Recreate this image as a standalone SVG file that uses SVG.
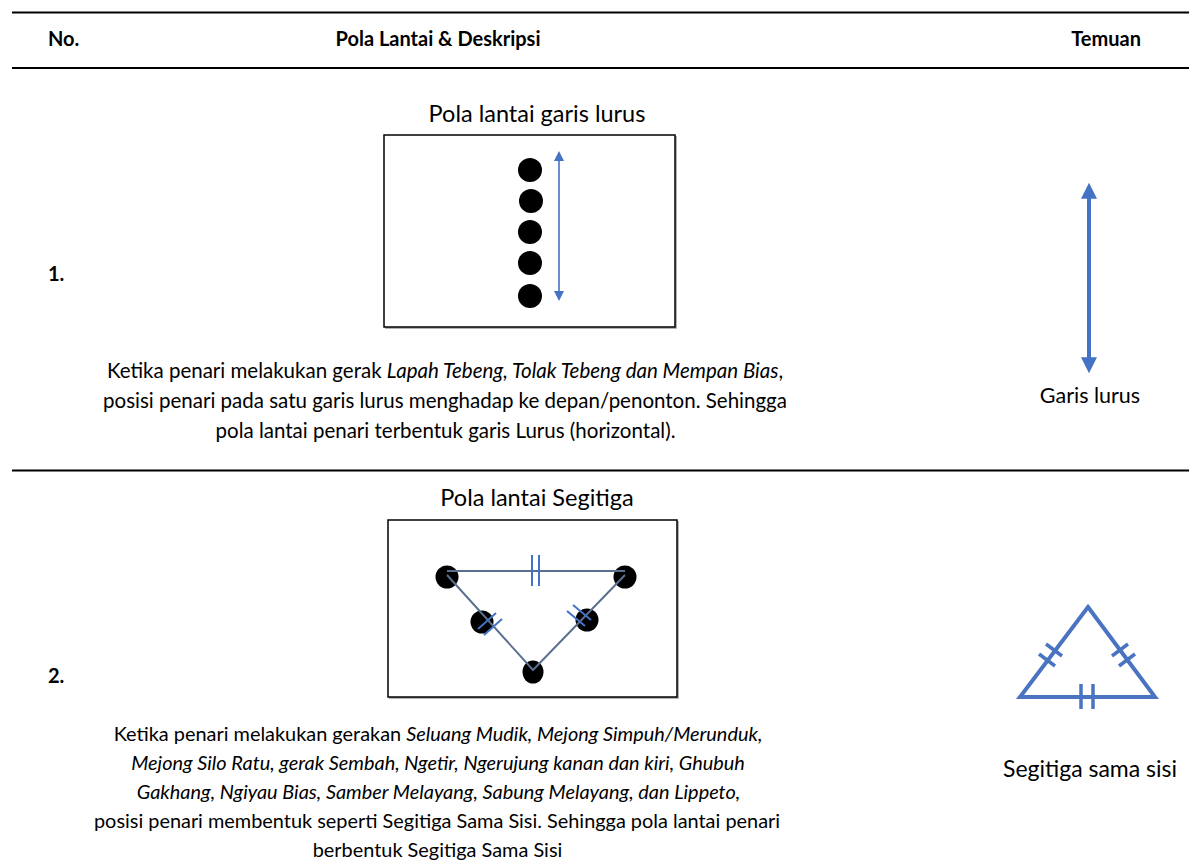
<svg xmlns="http://www.w3.org/2000/svg" width="1189" height="863" viewBox="0 0 1189 863">
<defs>
<style>
.t{font-family:Lato,"Open Sans","Liberation Sans",sans-serif;font-size:20.5px;fill:#000}
.r2{font-size:19.9px}
.lbl{font-size:21.5px}
.ttl{font-size:23.5px}
.b{font-weight:bold;font-size:20px}
.i{font-style:italic}
.rule{stroke:#000;stroke-width:2.2}
.box{fill:#fff;stroke:#000;stroke-width:1.5}
.shadow{fill:none;stroke:#999;stroke-width:1.5}
.blue{stroke:#4472c4;fill:none}
.tri{stroke:#5b6f8f;stroke-width:2;fill:none}
</style>
<marker id="ah" viewBox="0 0 10 10" refX="5" refY="5" markerWidth="10" markerHeight="10" markerUnits="userSpaceOnUse" orient="auto-start-reverse"><path d="M0,0 L10,5 L0,10 z" fill="#4472c4"/></marker>
<marker id="ahb" viewBox="0 0 10 10" refX="3" refY="5" markerWidth="4" markerHeight="4" orient="auto-start-reverse"><path d="M0,0 L10,5 L0,10 z" fill="#4472c4"/></marker>
</defs>
<rect width="1189" height="863" fill="#fff"/>

<g id="table-rules">
<line class="rule" x1="12" y1="12.5" x2="1189" y2="12.5"/>
<line class="rule" x1="12" y1="68" x2="1189" y2="68"/>
<line class="rule" x1="12" y1="470.5" x2="1189" y2="470.5"/>
</g>

<g id="header">
<text class="t b" x="48" y="46">No.</text>
<text class="t b" x="438" y="46" text-anchor="middle">Pola Lantai &amp; Deskripsi</text>
<text class="t b" x="1141" y="46" text-anchor="end">Temuan</text>
</g>

<g id="row1">
<text class="t b" x="48" y="281">1.</text>
<text class="t ttl" x="537" y="122" text-anchor="middle">Pola lantai garis lurus</text>
<g id="box1">
<path class="shadow" d="M676,136 V328 H385"/>
<rect class="box" x="384" y="135" width="291" height="192"/>
<circle cx="530" cy="170" r="12"/>
<circle cx="531" cy="201" r="12"/>
<circle cx="530" cy="232" r="12"/>
<circle cx="530" cy="263" r="12"/>
<circle cx="530" cy="296" r="12"/>
<line class="blue" x1="559" y1="156" x2="559" y2="296" stroke-width="1.6" marker-start="url(#ah)" marker-end="url(#ah)"/>
</g>
<text class="t" x="445" y="378" text-anchor="middle">Ketika penari melakukan gerak <tspan class="i">Lapah Tebeng, Tolak Tebeng dan Mempan Bias</tspan>,</text>
<text class="t" x="445" y="408" text-anchor="middle">posisi penari pada satu garis lurus menghadap ke depan/penonton. Sehingga</text>
<text class="t" x="445.5" y="438" text-anchor="middle">pola lantai penari terbentuk garis Lurus (horizontal).</text>
<g id="finding1">
<line x1="1089" y1="194" x2="1089" y2="362" stroke="#4472c4" stroke-width="4" marker-start="url(#ahb)" marker-end="url(#ahb)"/>
<text class="t lbl" x="1090" y="403" text-anchor="middle">Garis lurus</text>
</g>
</g>

<g id="row2">
<text class="t b" x="48" y="683">2.</text>
<text class="t ttl" x="537" y="506" text-anchor="middle">Pola lantai Segitiga</text>
<g id="box2">
<path class="shadow" d="M678,521 V698 H389"/>
<rect class="box" x="388" y="520" width="289" height="177"/>
<circle cx="447" cy="577" r="11.5"/>
<circle cx="625" cy="577" r="11.5"/>
<circle cx="482" cy="622" r="11.5"/>
<circle cx="587" cy="620" r="11.5"/>
<ellipse cx="533" cy="672" rx="10.5" ry="11.5"/>
<line class="tri" x1="447" y1="571" x2="625" y2="571"/>
<polyline class="tri" points="447,575 533,670 625,575"/>
<g class="blue" stroke-width="2">
<line x1="532" y1="555" x2="532" y2="586"/>
<line x1="539" y1="555" x2="539" y2="586"/>
<line x1="478" y1="629" x2="496" y2="613"/>
<line x1="484" y1="635" x2="502" y2="619"/>
<line x1="567" y1="611" x2="585" y2="626"/>
<line x1="573" y1="605" x2="591" y2="620"/>
</g>
</g>
<text class="t r2" x="438" y="741" text-anchor="middle">Ketika penari melakukan gerakan <tspan class="i">Seluang Mudik, Mejong Simpuh/Merunduk,</tspan></text>
<text class="t r2 i" x="438" y="770" text-anchor="middle">Mejong Silo Ratu, gerak Sembah, Ngetir, Ngerujung kanan dan kiri, Ghubuh</text>
<text class="t r2 i" x="438.5" y="799" text-anchor="middle">Gakhang, Ngiyau Bias, Samber Melayang, Sabung Melayang, dan Lippeto,</text>
<text class="t r2" x="437" y="828" text-anchor="middle">posisi penari membentuk seperti Segitiga Sama Sisi. Sehingga pola lantai penari</text>
<text class="t r2" x="437.5" y="857" text-anchor="middle">berbentuk Segitiga Sama Sisi</text>
<g id="finding2">
<polygon points="1088,607 1155,697 1020,697" fill="none" stroke="#4a74c2" stroke-width="4" stroke-linejoin="miter"/>
<g stroke="#4a74c2" stroke-width="3.5">
<line x1="1081" y1="684" x2="1081" y2="709"/>
<line x1="1093" y1="684" x2="1093" y2="709"/>
<line x1="1046" y1="644" x2="1062" y2="656"/>
<line x1="1039" y1="654" x2="1055" y2="666"/>
<line x1="1112" y1="656" x2="1128" y2="644"/>
<line x1="1119" y1="666" x2="1135" y2="654"/>
</g>
<text class="t" x="1090" y="777" text-anchor="middle" style="font-size:23px">Segitiga sama sisi</text>
</g>
</g>
</svg>
